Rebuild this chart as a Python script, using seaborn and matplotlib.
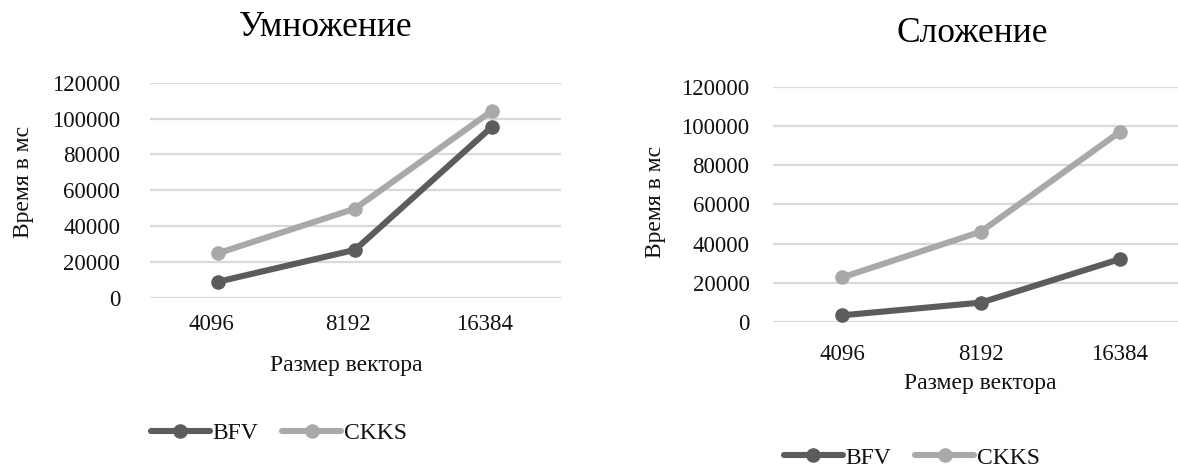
import matplotlib
matplotlib.use("Agg")
import matplotlib.pyplot as plt
import matplotlib.transforms as mtransforms
import pandas as pd
import seaborn as sns

# Vector sizes (categories on the x axis)
sizes = ["4096", "8192", "16384"]
schemes = ["BFV", "CKKS"]

# Multiplication time, ms
mult_bfv = [8900, 26700, 95400]
mult_ckks = [24800, 49700, 104300]

# Addition time, ms
add_bfv = [3400, 9900, 32100]
add_ckks = [22700, 46100, 97000]

yticks = [0, 20000, 40000, 60000, 80000, 100000, 120000]

titles = ["Умножение", "Сложение"]
xlabel = "Размер вектора"
ylabel = "Время в мс"

palette = {"BFV": "#5c5c5c", "CKKS": "#a9a9a9"}

sns.set_style("whitegrid")
plt.rcParams["font.family"] = ["Liberation Serif", "DejaVu Serif"]

W, H = 1178, 468
fig = plt.figure(figsize=(W / 100, H / 100), dpi=100)


def fx(px):
    return px / W


def fy(py):
    return 1 - py / H


def long_table(bfv, ckks):
    rows = []
    for name, vals in zip(schemes, [bfv, ckks]):
        for s, v in zip(sizes, vals):
            rows.append({"size": s, "time": v, "scheme": name})
    return pd.DataFrame(rows)


panels = [
    dict(data=long_table(mult_bfv, mult_ckks), box=(149.5, 82.7, 560.5, 297.7),
         title=(326, 36), xl=(346, 366), yl=(23, 182), leg=(279, 433),
         ypad=21, xpad=12, xshift=-7),
    dict(data=long_table(add_bfv, add_ckks), box=(772.5, 86.7, 1189.5, 322.0),
         title=(972, 42), xl=(980, 383), yl=(655, 202), leg=(912, 458),
         ypad=16.5, xpad=16, xshift=0),
]

text_color = "#111111"

for i, p in enumerate(panels):
    x0, y0, x1, y1 = p["box"]
    ax = fig.add_axes([fx(x0), fy(y1), fx(x1) - fx(x0), (y1 - y0) / H])
    sns.pointplot(
        data=p["data"], x="size", y="time", hue="scheme", order=sizes,
        hue_order=schemes, palette=palette, markers="o", linestyles="-",
        errorbar=None, ax=ax, linewidth=4.4, markersize=10.5,
        markeredgewidth=0,
    )
    ax.set_xlim(-0.5, len(sizes) - 0.5)
    ax.set_ylim(0, 120000)
    ax.set_yticks(yticks)
    ax.set_yticklabels([str(t) for t in yticks])
    ax.grid(False)
    ax.yaxis.grid(True, color="#d9d9d9", linewidth=1.6)
    ax.set_axisbelow(True)
    for sp in ax.spines.values():
        sp.set_visible(False)
    ax.tick_params(axis="y", length=0, pad=p["ypad"], labelsize=16.5,
                   labelcolor=text_color)
    ax.tick_params(axis="x", length=0, pad=p["xpad"], labelsize=16.5,
                   labelcolor=text_color)
    if p["xshift"]:
        off = mtransforms.ScaledTranslation(p["xshift"] / 100, 0, fig.dpi_scale_trans)
        for lab in ax.get_xticklabels():
            lab.set_transform(lab.get_transform() + off)

    ax.set_xlabel(xlabel, fontsize=17, color=text_color)
    ax.set_ylabel(ylabel, fontsize=17, color=text_color)
    ax.xaxis.label.set_va("center")
    ax.yaxis.label.set_va("center")
    lx, ly = p["xl"]
    ax.xaxis.set_label_coords((lx - x0) / (x1 - x0), (y1 - ly) / (y1 - y0))
    vx, vy = p["yl"]
    ax.yaxis.set_label_coords((vx - x0) / (x1 - x0), (y1 - vy) / (y1 - y0))

    tx, ty = p["title"]
    fig.text(fx(tx), fy(ty), titles[i], ha="center", va="baseline",
             fontsize=25.5, color="black")

    lgx, lgy = p["leg"]
    sns.move_legend(
        ax, loc="center", bbox_to_anchor=(fx(lgx), fy(lgy)),
        bbox_transform=fig.transFigure, ncol=2, frameon=False, title=None,
        fontsize=17, handlelength=2.5, handletextpad=0.12,
        columnspacing=1.0, borderpad=0,
    )
    for t in ax.get_legend().get_texts():
        t.set_color(text_color)

fig.savefig("out.png", dpi=100)
